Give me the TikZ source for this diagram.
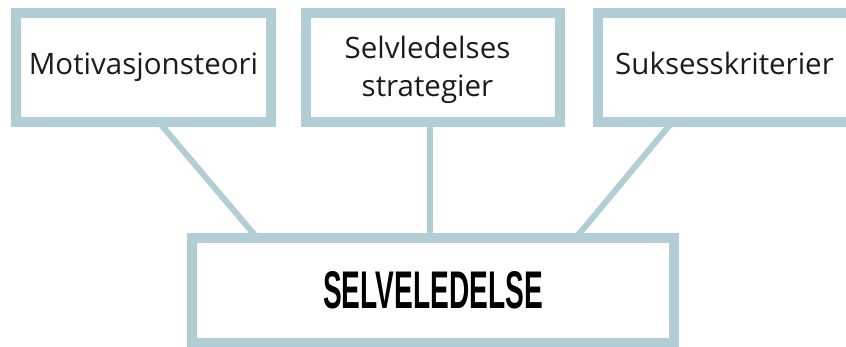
\documentclass[tikz,border=0pt]{standalone}
\usepackage{fontspec}
\setmainfont{Open Sans}
\newfontfamily\headfont{Liberation Sans}
\usetikzlibrary{backgrounds}
\definecolor{frame}{HTML}{B0CED4}
\definecolor{ink}{HTML}{1C1C1C}

\begin{document}
\begin{tikzpicture}[x=1pt,y=-1pt,
  box/.style={draw=frame, line width=10pt, fill=white, inner sep=0pt,
    outer sep=0pt, text=ink},
  topbox/.style={box, minimum height=109pt, align=center,
    font=\fontsize{29.5}{38}\selectfont},
  mainbox/.style={box, minimum width=482pt, minimum height=105pt, text=black,
    font=\fontsize{53}{60}\selectfont\headfont\bfseries},
  link/.style={draw=frame, line width=6pt}]

\useasboundingbox (0,0) rectangle (846,347);
\clip (0,0) rectangle (846,347);

% upper row of topics
\node[topbox, minimum width=255pt] (motiv) at (143.5,67.5)
  {Motivasjonsteori\rule[-7.5pt]{0pt}{22.5pt}};
\node[topbox, minimum width=254pt] (strat) at (433,67.5)
  {\rule{0pt}{28pt}Selvledelses\hspace*{11pt}\\strategier\hspace*{11pt}};
\node[topbox, minimum width=253pt] (suks) at (724.5,67.5)
  {Suksesskriterier\rule[-7.5pt]{0pt}{22.5pt}};

% central concept
\node[mainbox] (selv) at (433,290.5)
  {\scalebox{0.53}[1]{SELVELEDELSE}};

% connectors, kept behind the frames
\begin{scope}[on background layer]
  \draw[link] ([xshift=15.3pt]motiv.south) -- ([xshift=-175.8pt]selv.north);
  \draw[link] ([xshift=-3pt]strat.south) -- ([xshift=-3pt]selv.north);
  \draw[link] ([xshift=-52.3pt]suks.south) -- ([xshift=142.8pt]selv.north);
\end{scope}
\end{tikzpicture}
\end{document}
